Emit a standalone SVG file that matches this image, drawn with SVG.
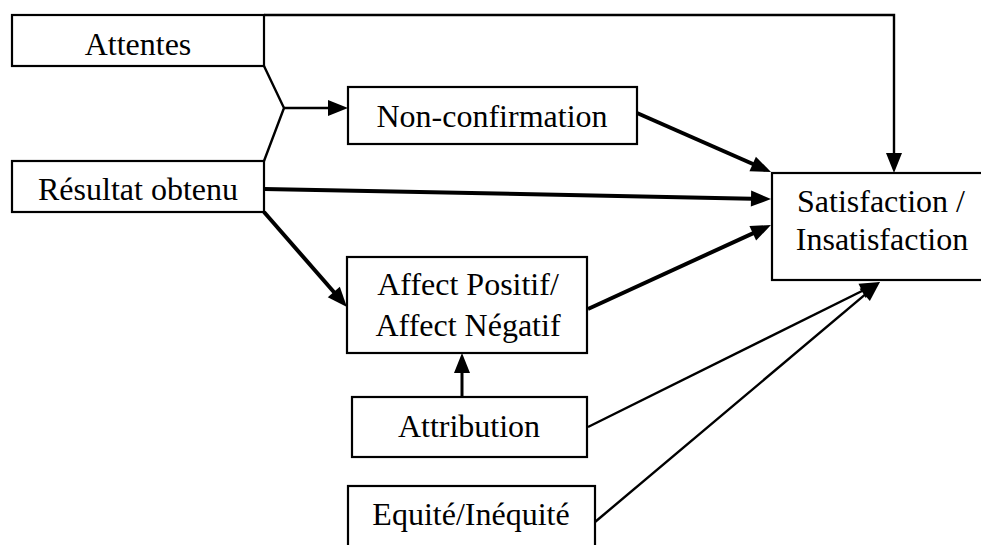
<svg xmlns="http://www.w3.org/2000/svg" width="981" height="545" viewBox="0 0 981 545">
<style>
.box{fill:#fff;stroke:#000;stroke-width:2.2}
.t{font-family:"Liberation Serif","Times New Roman",serif;font-size:32px;fill:#000;text-anchor:middle}
.thin{fill:none;stroke:#000;stroke-width:2.4}
.thick{fill:none;stroke:#000;stroke-width:4}
.mid{fill:none;stroke:#000;stroke-width:3}
</style>
<defs>
<marker id="ah" markerUnits="userSpaceOnUse" markerWidth="22" markerHeight="18" refX="14" refY="8" orient="auto" overflow="visible">
<path d="M0,0 L20,8 L0,16 z" fill="#000"/>
</marker>
</defs>
<rect width="981" height="545" fill="#fff"/>
<g id="connectors">
<path class="thin" d="M264,15 H894 V167" marker-end="url(#ah)"/>
<path class="thin" d="M264,66 L284,108 L264,161"/>
<path class="thin" d="M284,108 H342" marker-end="url(#ah)"/>
<path class="thick" d="M637,113 L765.5,169.6" marker-end="url(#ah)"/>
<path class="thick" d="M264,189 L765,198.9" marker-end="url(#ah)"/>
<path class="thick" d="M264,212 L343,302.5" marker-end="url(#ah)"/>
<path class="thick" d="M588,309 L765.5,227.5" marker-end="url(#ah)"/>
<path class="mid" d="M462,397 V359" marker-end="url(#ah)"/>
<path class="thin" d="M588,427 L874.6,284.7" marker-end="url(#ah)"/>
<path class="thin" d="M595,522 L875.4,285.9" marker-end="url(#ah)"/>
</g>
<g id="attentes">
<rect class="box" x="12" y="15" width="252" height="51"/>
<text class="t" x="138" y="55">Attentes</text>
</g>
<g id="resultat">
<rect class="box" x="12" y="161" width="252" height="51"/>
<text class="t" x="138" y="200">Résultat obtenu</text>
</g>
<g id="nonconfirmation">
<rect class="box" x="348" y="87" width="289" height="57"/>
<text class="t" x="492" y="127">Non-confirmation</text>
</g>
<g id="affect">
<rect class="box" x="347" y="257" width="240" height="96"/>
<text class="t" x="468" y="295">Affect Positif/</text>
<text class="t" x="468" y="336">Affect Négatif</text>
</g>
<g id="attribution">
<rect class="box" x="352" y="397" width="235" height="60"/>
<text class="t" x="469" y="437">Attribution</text>
</g>
<g id="equite">
<rect class="box" x="348" y="486" width="247" height="80"/>
<text class="t" x="471" y="525">Equité/Inéquité</text>
</g>
<g id="satisfaction">
<rect class="box" x="772" y="173" width="220" height="107"/>
<text class="t" x="881" y="212">Satisfaction /</text>
<text class="t" x="882" y="250">Insatisfaction</text>
</g>
</svg>
